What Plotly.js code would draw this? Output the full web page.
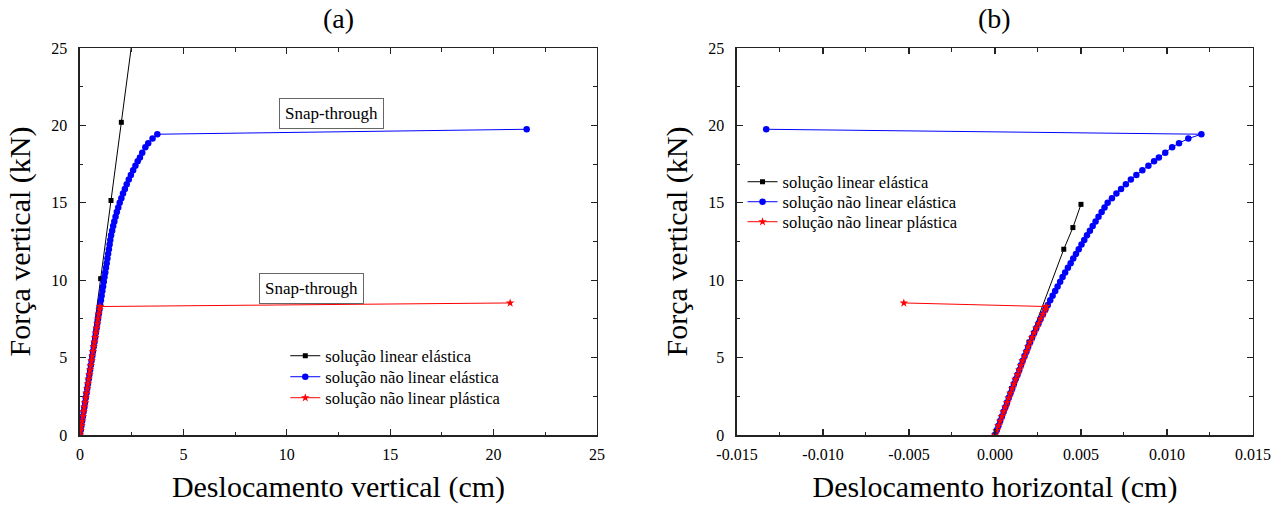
<!DOCTYPE html>
<html>
<head>
<meta charset="utf-8">
<script src="https://cdn.plot.ly/plotly-3.0.1.min.js"></script>
<style>html,body{margin:0;padding:0;background:#fff;}#chart{width:1288px;height:508px;}</style>
</head>
<body>
<div id="chart"></div>
<script>
// ---- data ----
// linear elastic (a): vertical displacement
var loadLinV = [0, 10.1, 15.15, 20.2, 25.25];
var dispLinV = [0, 1.0, 1.5, 2.0, 2.5];
// linear elastic (b): horizontal displacement
var loadLinH = [0, 2, 3, 6, 12, 13.4, 14.9];
var dispLinH = [0, 0.00068, 0.00097, 0.00198, 0.0040, 0.00453, 0.0050];

// non-linear elastic
var loadBlue = [0,0.3,0.6,0.9,1.2,1.5,1.8,2.1,2.4,2.7,3.0,3.3,3.6,3.9,4.2,4.5,4.8,5.1,5.4,5.7,6.0,6.3,6.6,6.9,7.2,7.5,7.8,8.1,8.4,8.7,9.0,9.3,9.6,9.9,10.2,10.5,10.8,11.1,11.4,11.7,12.0,12.3,12.6,12.9,13.2,13.5,13.8,14.1,14.4,14.7,15.0,15.3,15.6,15.9,16.2,16.5,16.8,17.1,17.4,17.68,17.92,18.24,18.59,18.85,19.15,19.43,19.75];
var dispVBlue = [0,0.035,0.070,0.105,0.140,0.174,0.209,0.244,0.279,0.314,0.349,0.384,0.419,0.453,0.488,0.523,0.558,0.593,0.628,0.663,0.698,0.733,0.767,0.802,0.837,0.872,0.907,0.942,0.977,1.012,1.047,1.081,1.116,1.151,1.186,1.221,1.256,1.291,1.326,1.361,1.397,1.432,1.465,1.505,1.555,1.605,1.66,1.72,1.78,1.85,1.92,2.00,2.08,2.17,2.26,2.36,2.46,2.57,2.68,2.79,2.90,3.01,3.16,3.30,3.51,3.74,21.6];
var dispHBlue = [0,0.00010,0.00020,0.00030,0.00040,0.00050,0.00060,0.00070,0.00080,0.00090,0.00100,0.00110,0.00120,0.00131,0.00141,0.00151,0.00161,0.00172,0.00183,0.00193,0.00204,0.00216,0.00228,0.00240,0.00253,0.00265,0.00279,0.00293,0.00307,0.00321,0.00335,0.00350,0.00364,0.00379,0.00393,0.00408,0.00424,0.00440,0.00455,0.00471,0.00487,0.00503,0.00519,0.00535,0.00552,0.00568,0.00585,0.00602,0.00620,0.00637,0.00655,0.00680,0.00706,0.00733,0.00761,0.00790,0.00822,0.00857,0.00892,0.00925,0.00953,0.00990,0.01030,0.01070,0.01124,0.01200,-0.0133];

// non-linear plastic
var loadRed = [0,0.3,0.6,0.9,1.2,1.5,1.8,2.1,2.4,2.7,3.0,3.3,3.6,3.9,4.2,4.5,4.8,5.1,5.4,5.7,6.0,6.3,6.6,6.9,7.2,7.5,7.8,8.1,8.3,8.53];
var dispVRed = [0,0.035,0.070,0.105,0.140,0.174,0.209,0.244,0.279,0.314,0.349,0.384,0.419,0.453,0.488,0.523,0.558,0.593,0.628,0.663,0.698,0.733,0.767,0.802,0.837,0.872,0.907,0.942,0.965,20.8];
var dispHRed = [0,0.00010,0.00020,0.00030,0.00040,0.00050,0.00060,0.00070,0.00080,0.00090,0.00100,0.00110,0.00120,0.00131,0.00141,0.00151,0.00161,0.00172,0.00183,0.00193,0.00204,0.00216,0.00228,0.00240,0.00253,0.00265,0.00279,0.00293,0.00298,-0.0053];

var seriesNames = ['solução linear elástica', 'solução não linear elástica', 'solução não linear plástica'];
var panelTitles = ['(a)', '(b)'];
var xTitles = ['Deslocamento vertical (cm)', 'Deslocamento horizontal (cm)'];
var yTitle = 'Força vertical (kN)';
var annText = 'Snap-through';
var xTickValsB = [-0.015, -0.010, -0.005, 0, 0.005, 0.010, 0.015];
var xTickTextB = ['-0.015', '-0.010', '-0.005', '0.000', '0.005', '0.010', '0.015'];

// ---- styles ----
var FONT = '"Liberation Serif", "Times New Roman", serif';
var cBlack = '#000000', cBlue = '#0000ff', cRed = '#ff0000';

function tr(x, y, name, color, sym, size, xa, ya, leg) {
  return {
    x: x, y: y, name: name, type: 'scatter', mode: 'lines+markers',
    xaxis: xa, yaxis: ya, legend: leg, showlegend: true,
    line: {color: color, width: 1},
    marker: {color: color, symbol: sym, size: size, line: {width: 0}},
    cliponaxis: true
  };
}

var data = [
  tr(dispLinV, loadLinV, seriesNames[0], cBlack, 'square', 5, 'x', 'y', 'legend'),
  tr(dispVBlue, loadBlue, seriesNames[1], cBlue, 'circle', 6.5, 'x', 'y', 'legend3'),
  tr(dispVRed, loadRed, seriesNames[2], cRed, 'star', 6.5, 'x', 'y', 'legend4'),
  tr(dispLinH, loadLinH, seriesNames[0], cBlack, 'square', 5, 'x2', 'y2', 'legend2'),
  tr(dispHBlue, loadBlue, seriesNames[1], cBlue, 'circle', 6.5, 'x2', 'y2', 'legend5'),
  tr(dispHRed, loadRed, seriesNames[2], cRed, 'star', 6.5, 'x2', 'y2', 'legend6')
];

function axisBase() {
  return {
    showgrid: false, zeroline: false, showline: true, linecolor: '#222', linewidth: 1.5,
    mirror: 'ticks', ticks: 'inside', ticklen: 6, tickwidth: 1.2, tickcolor: '#222',
    tickfont: {family: FONT, size: 16, color: '#000'}, ticklabelstandoff: 4,
    minor: {ticks: 'inside', ticklen: 3.5, tickwidth: 1, tickcolor: '#222'}
  };
}

var xa = axisBase();
Object.assign(xa, {domain: [0.0621, 0.4635], range: [0, 25], tickmode: 'linear', tick0: 0, dtick: 5,
  anchor: 'y', title: {text: xTitles[0], font: {family: FONT, size: 30, color: '#000'}, standoff: 14}});
xa.minor.dtick = 2.5;
var ya = axisBase();
Object.assign(ya, {domain: [0.1437, 0.9055], range: [0, 25], tickmode: 'linear', tick0: 0, dtick: 5, ticklabelstandoff: 8,
  anchor: 'x', title: {text: yTitle, font: {family: FONT, size: 30, color: '#000'}, standoff: 12}});
ya.minor.dtick = 2.5;
var xb = axisBase();
Object.assign(xb, {domain: [0.5722, 0.9728], range: [-0.015, 0.015], tickmode: 'array', tickvals: xTickValsB, ticktext: xTickTextB,
  anchor: 'y2', title: {text: xTitles[1], font: {family: FONT, size: 30, color: '#000'}, standoff: 14}});
xb.minor.dtick = 0.0025;
xb.minor.tick0 = 0;
var yb = axisBase();
Object.assign(yb, {domain: [0.1437, 0.9055], range: [0, 25], tickmode: 'linear', tick0: 0, dtick: 5, ticklabelstandoff: 8,
  anchor: 'x2', title: {text: yTitle, font: {family: FONT, size: 30, color: '#000'}, standoff: 12}});
yb.minor.dtick = 2.5;

function leg(x, yPix) {
  return {x: x, y: 1 - yPix / 508, xanchor: 'left', yanchor: 'middle', bgcolor: 'rgba(0,0,0,0)',
    font: {family: FONT, size: 16.5, color: '#000'}, itemwidth: 30, borderwidth: 0};
}

var layout = {
  width: 1288, height: 508,
  margin: {l: 0, r: 0, t: 0, b: 0},
  paper_bgcolor: '#fff', plot_bgcolor: '#fff',
  showlegend: true,
  xaxis: xa, yaxis: ya, xaxis2: xb, yaxis2: yb,
  legend: leg(0.2215, 356),
  legend3: leg(0.2215, 377),
  legend4: leg(0.2215, 398),
  legend2: leg(0.5765, 182),
  legend5: leg(0.5765, 202),
  legend6: leg(0.5765, 222),
  annotations: [
    {text: panelTitles[0], xref: 'x domain', yref: 'paper', x: 0.5, y: 1 - 18/508, xanchor: 'center', yanchor: 'middle', showarrow: false, font: {family: FONT, size: 28, color: '#000'}},
    {text: panelTitles[1], xref: 'x2 domain', yref: 'paper', x: 0.5, y: 1 - 18/508, xanchor: 'center', yanchor: 'middle', showarrow: false, font: {family: FONT, size: 28, color: '#000'}},
    {text: annText, xref: 'x', yref: 'y', x: 12.15, y: 20.74, xanchor: 'center', yanchor: 'middle', showarrow: false,
      bordercolor: '#666', borderwidth: 1, borderpad: 5, bgcolor: '#fff', font: {family: FONT, size: 17, color: '#000'}},
    {text: annText, xref: 'x', yref: 'y', x: 11.19, y: 9.46, xanchor: 'center', yanchor: 'middle', showarrow: false,
      bordercolor: '#666', borderwidth: 1, borderpad: 5, bgcolor: '#fff', font: {family: FONT, size: 17, color: '#000'}}
  ]
};

Plotly.newPlot('chart', data, layout, {displayModeBar: false, staticPlot: true});
</script>
</body>
</html>
